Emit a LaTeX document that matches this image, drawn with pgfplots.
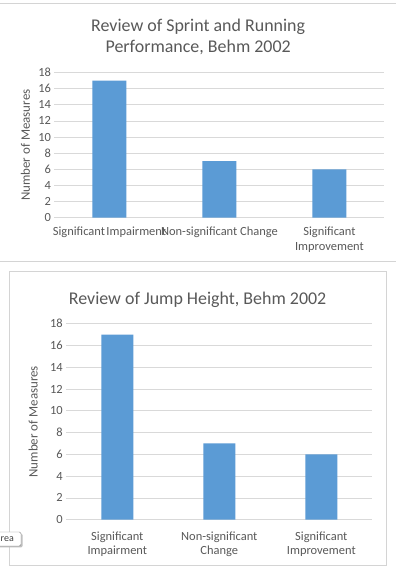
\documentclass[border=0pt]{standalone}
\usepackage{pgfplots}
\pgfplotsset{compat=1.18}
\usepackage{fontspec}
\setmainfont{Carlito}
\definecolor{barblue}{HTML}{5B9BD5}
\definecolor{gridgray}{HTML}{D9D9D9}
\definecolor{txt}{HTML}{595959}
\definecolor{border}{HTML}{D4D4D4}

\pgfplotsset{excel/.style={
  scale only axis, ybar, bar shift=0pt,
  xmin=-0.5, xmax=2.5, ymin=0, ymax=18,
  xtick={0,1,2}, ytick={0,2,...,18},
  ymajorgrids, grid style={gridgray, line width=0.75bp},
  axis x line*=bottom, axis y line*=left,
  x axis line style={gridgray, line width=0.75bp, -},
  y axis line style={draw=none},
  major tick length=0pt,
  xtick style={draw=none}, ytick style={draw=none},
  /pgf/number format/assume math mode=true,
  tick label style={text=txt},
  yticklabel style={font=\fontsize{12.5}{15}\selectfont},
  label style={text=txt, font=\fontsize{13}{15}\selectfont},
  ylabel={Number of Measures},
}}

\begin{document}
\begin{tikzpicture}[x=1bp,y=1bp]
\fill[white] (0,0) rectangle (396,566);
% top chart frame lines
\draw[border, line width=1bp] (0,562) -- (396,562);
\draw[border, line width=0.9bp] (0,305) -- (396,305);
% bottom chart frame
\draw[border, line width=0.9bp] (9,1) rectangle (386,295);

\begin{axis}[excel,
  at={(49.5,432.5)}, anchor=south west, width=330bp, height=145bp,
  xticklabels={{\spaceskip=1.5bp Significant Impairment},{Non-significant Change},{Significant\\Improvement}},
  xticklabel style={align=center, font=\fontsize{12.5}{14.5}\selectfont, yshift=-6bp},
  ylabel style={at={(axis description cs:-0.088,0.5)}, anchor=center},
  title={Review of Sprint and Running\\Performance, Behm 2002},
  title style={at={(axis description cs:0.4355,1)}, anchor=base, yshift=14bp,
    align=center, font=\fontsize{18}{21}\selectfont, text=txt},
]
\addplot[fill=barblue, draw=none, bar width=34bp] coordinates {(0,17) (1,7) (2,6)};
\end{axis}

\begin{axis}[excel,
  at={(65,42.5)}, anchor=south west, width=306bp, height=196bp,
  xticklabels={{Significant\\Impairment},{Non-significant\\Change},{Significant\\Improvement}},
  xticklabel style={align=center, font=\fontsize{12.5}{13.4}\selectfont, yshift=-9bp},
  ylabel style={at={(axis description cs:-0.108,0.5)}, anchor=center},
  title={Review of Jump Height, Behm 2002},
  title style={at={(axis description cs:0.429,1)}, anchor=base, yshift=13.7bp,
    font=\fontsize{18}{21}\selectfont, text=txt},
]
\addplot[fill=barblue, draw=none, bar width=32bp] coordinates {(0,17) (1,7) (2,6)};
\end{axis}

% partial tooltip box at lower left
\fill[black!25, rounded corners=1.5bp] (-2,18.5) rectangle (22.5,32.5);
\draw[black!45, fill=white, rounded corners=1.5bp] (-2,20) rectangle (21,34);
\node[anchor=west, inner sep=0pt, font=\fontsize{10}{12}\selectfont, text=black!75] at (0.5,27) {rea};

\pgfresetboundingbox
\useasboundingbox (0,0) rectangle (396,566);
\end{tikzpicture}
\end{document}
